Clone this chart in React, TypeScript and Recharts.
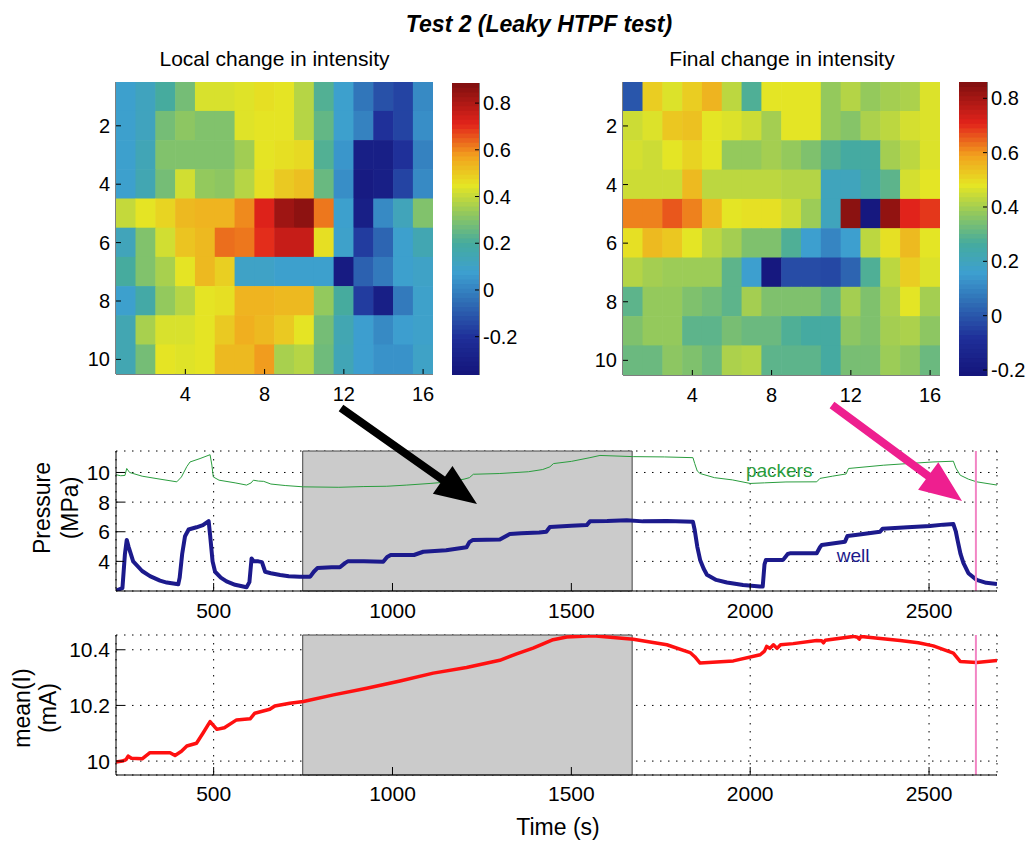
import React from 'react';
import {
  ScatterChart,
  Scatter,
  XAxis,
  YAxis,
  ReferenceArea,
  ReferenceLine,
  ReferenceDot,
  LineChart,
  Line,
  CartesianGrid,
} from 'recharts';

const FONT = '"Liberation Sans", Arial, Helvetica, sans-serif';

// ---- heatmaps (10 rows x 16 channels) ----
const LOCAL_CHANGE = [
  [0.08, 0.12, 0.2, 0.28, 0.43, 0.43, 0.44, 0.46, 0.45, 0.38, 0.22, 0.08, -0.03, -0.12, -0.15, 0.02],
  [0.08, 0.12, 0.28, 0.32, 0.3, 0.3, 0.44, 0.45, 0.45, 0.38, 0.25, 0.08, 0.0, -0.2, -0.15, 0.03],
  [0.08, 0.14, 0.3, 0.3, 0.3, 0.3, 0.35, 0.45, 0.46, 0.47, 0.22, 0.05, -0.3, -0.3, -0.2, 0.0],
  [0.08, 0.15, 0.28, 0.42, 0.33, 0.32, 0.38, 0.46, 0.5, 0.52, 0.26, 0.03, -0.32, -0.3, -0.15, 0.02],
  [0.4, 0.45, 0.48, 0.53, 0.54, 0.54, 0.6, 0.72, 0.83, 0.86, 0.62, 0.08, -0.3, 0.02, 0.13, 0.3],
  [0.13, 0.3, 0.42, 0.51, 0.53, 0.63, 0.62, 0.7, 0.76, 0.76, 0.46, 0.09, -0.17, -0.07, 0.08, 0.15],
  [0.2, 0.3, 0.36, 0.45, 0.53, 0.49, 0.1, 0.1, 0.08, 0.08, 0.08, -0.32, -0.08, -0.02, 0.08, 0.1],
  [0.08, 0.18, 0.33, 0.38, 0.45, 0.46, 0.54, 0.54, 0.53, 0.53, 0.33, 0.2, -0.17, -0.3, -0.02, 0.09],
  [0.15, 0.36, 0.43, 0.43, 0.45, 0.5, 0.55, 0.53, 0.5, 0.45, 0.28, 0.15, 0.07, 0.02, 0.07, 0.09],
  [0.15, 0.28, 0.45, 0.44, 0.45, 0.53, 0.53, 0.58, 0.36, 0.38, 0.27, 0.14, 0.07, 0.04, 0.04, 0.1],
];

const FINAL_CHANGE = [
  [0.0, 0.52, 0.47, 0.52, 0.56, 0.43, 0.28, 0.48, 0.48, 0.48, 0.38, 0.42, 0.38, 0.4, 0.41, 0.47],
  [0.45, 0.47, 0.53, 0.54, 0.48, 0.47, 0.45, 0.4, 0.48, 0.48, 0.38, 0.36, 0.41, 0.43, 0.46, 0.47],
  [0.46, 0.45, 0.48, 0.51, 0.48, 0.38, 0.38, 0.4, 0.38, 0.35, 0.29, 0.26, 0.26, 0.4, 0.43, 0.47],
  [0.45, 0.45, 0.45, 0.55, 0.43, 0.43, 0.43, 0.43, 0.42, 0.42, 0.2, 0.2, 0.25, 0.3, 0.46, 0.48],
  [0.62, 0.62, 0.66, 0.62, 0.55, 0.48, 0.49, 0.49, 0.45, 0.39, 0.2, 0.84, -0.2, 0.83, 0.71, 0.69],
  [0.49, 0.55, 0.53, 0.48, 0.43, 0.4, 0.35, 0.35, 0.28, 0.16, 0.1, 0.16, 0.43, 0.49, 0.55, 0.48],
  [0.42, 0.4, 0.39, 0.39, 0.39, 0.3, 0.16, -0.2, -0.02, -0.02, -0.03, 0.03, 0.28, 0.43, 0.52, 0.47],
  [0.3, 0.38, 0.38, 0.35, 0.33, 0.3, 0.4, 0.35, 0.35, 0.35, 0.31, 0.4, 0.35, 0.41, 0.48, 0.4],
  [0.35, 0.38, 0.38, 0.3, 0.3, 0.34, 0.32, 0.32, 0.28, 0.26, 0.26, 0.37, 0.35, 0.4, 0.41, 0.37],
  [0.32, 0.32, 0.37, 0.35, 0.32, 0.41, 0.42, 0.3, 0.3, 0.3, 0.26, 0.34, 0.34, 0.39, 0.37, 0.32],
];

const HEAT_X_TICKS = [4, 8, 12, 16];
const HEAT_Y_TICKS = [2, 4, 6, 8, 10];
const BAR_TICKS = [-0.2, 0, 0.2, 0.4, 0.6, 0.8];
const LOCAL_RANGE = [-0.364, 0.886];
const FINAL_RANGE = [-0.222, 0.86];

// ---- time series ----
const TIME_TICKS = [500, 1000, 1500, 2000, 2500];
const PRESSURE_TICKS = [4, 6, 8, 10];
const CURRENT_TICKS = [10, 10.2, 10.4];

const PACKERS_T = [227, 240, 252, 257, 265, 300, 350, 397, 410, 425, 434, 462, 490, 495, 499, 515, 560, 592, 605, 611, 625, 640, 660, 700, 751, 850, 920, 984, 1040, 1105, 1150, 1200, 1215, 1226, 1300, 1380, 1420, 1440, 1450, 1500, 1552, 1580, 1673, 1760, 1840, 1845, 1852, 1860, 1900, 1950, 2000, 2040, 2100, 2186, 2195, 2230, 2268, 2275, 2372, 2440, 2511, 2568, 2575, 2587, 2610, 2633, 2690];
const PACKERS_P = [9.85, 9.78, 9.8, 10.27, 10.0, 9.75, 9.55, 9.37, 9.7, 10.4, 10.71, 10.94, 11.2, 10.5, 9.7, 9.48, 9.3, 9.15, 9.3, 9.48, 9.42, 9.4, 9.22, 9.12, 9.03, 9.0, 9.05, 9.07, 9.15, 9.26, 9.35, 9.55, 9.65, 9.88, 9.93, 10.05, 10.2, 10.38, 10.6, 10.75, 11.0, 11.15, 11.07, 11.05, 11.0, 10.6, 10.1, 9.93, 9.65, 9.5, 9.26, 9.3, 9.36, 9.37, 9.6, 9.75, 9.9, 10.27, 10.49, 10.6, 10.71, 10.76, 10.3, 9.82, 9.55, 9.37, 9.15];

const WELL_T = [227, 245, 252, 257, 262, 275, 300, 322, 350, 369, 401, 405, 412, 420, 430, 452, 470, 486, 490, 497, 504, 520, 536, 560, 592, 600, 606, 612, 625, 635, 644, 660, 686, 710, 741, 770, 780, 790, 830, 853, 868, 875, 920, 974, 985, 995, 1060, 1086, 1150, 1207, 1215, 1225, 1300, 1328, 1360, 1410, 1430, 1440, 1500, 1543, 1552, 1600, 1655, 1700, 1767, 1840, 1845, 1852, 1860, 1870, 1879, 1905, 1935, 1980, 2027, 2035, 2040, 2044, 2092, 2105, 2111, 2186, 2195, 2200, 2265, 2272, 2300, 2363, 2370, 2440, 2503, 2540, 2568, 2575, 2580, 2588, 2596, 2610, 2633, 2660, 2690];
const WELL_P = [2.03, 2.2, 4.5, 5.45, 5.0, 4.0, 3.35, 3.0, 2.7, 2.57, 2.45, 2.9, 4.5, 5.7, 6.15, 6.3, 6.45, 6.72, 5.8, 4.0, 3.3, 2.9, 2.65, 2.42, 2.25, 2.6, 4.2, 4.0, 4.0, 3.95, 3.3, 3.2, 3.08, 3.0, 2.97, 2.97, 3.3, 3.55, 3.6, 3.6, 3.9, 4.0, 4.0, 3.98, 4.3, 4.43, 4.43, 4.65, 4.75, 4.95, 5.3, 5.45, 5.48, 5.85, 5.9, 5.95, 6.0, 6.32, 6.4, 6.45, 6.7, 6.72, 6.78, 6.7, 6.72, 6.67, 6.1, 5.0, 4.1, 3.5, 3.1, 2.75, 2.57, 2.4, 2.3, 2.3, 3.8, 4.1, 4.1, 4.5, 4.54, 4.55, 4.95, 5.1, 5.33, 5.72, 5.8, 6.0, 6.2, 6.3, 6.38, 6.48, 6.52, 6.0, 5.4, 4.5, 3.9, 3.2, 2.75, 2.55, 2.48];

const CURRENT_T = [227, 245, 255, 261, 270, 300, 322, 378, 392, 410, 425, 452, 470, 490, 509, 530, 564, 602, 615, 657, 671, 713, 751, 835, 928, 1021, 1114, 1207, 1300, 1347, 1393, 1449, 1487, 1561, 1673, 1767, 1832, 1845, 1860, 1953, 2028, 2040, 2046, 2055, 2065, 2075, 2085, 2120, 2186, 2200, 2205, 2210, 2289, 2300, 2305, 2310, 2330, 2419, 2470, 2512, 2568, 2587, 2633, 2690];
const CURRENT_I = [9.997, 10.0, 10.005, 10.018, 10.01, 10.008, 10.03, 10.03, 10.02, 10.035, 10.054, 10.064, 10.1, 10.142, 10.114, 10.12, 10.148, 10.152, 10.172, 10.186, 10.198, 10.208, 10.214, 10.238, 10.262, 10.288, 10.316, 10.336, 10.362, 10.385, 10.406, 10.436, 10.446, 10.45, 10.438, 10.418, 10.39, 10.375, 10.352, 10.36, 10.382, 10.395, 10.412, 10.405, 10.418, 10.405, 10.418, 10.422, 10.433, 10.432, 10.425, 10.434, 10.448, 10.445, 10.438, 10.448, 10.445, 10.433, 10.425, 10.414, 10.388, 10.358, 10.354, 10.361];

const TIME_DOMAIN = [227, 2690];
const SHADE = [749, 1670];
const MARKER_T = 2631;

const packersData = PACKERS_T.map((t, i) => ({ t, p: PACKERS_P[i] }));
const wellData = WELL_T.map((t, i) => ({ t, p: WELL_P[i] }));
const currentData = CURRENT_T.map((t, i) => ({ t, v: CURRENT_I[i] }));

// soft jet colormap
const STOPS: [number, string][] = [
  [0, '#14147a'],
  [0.13, '#1f2f99'],
  [0.25, '#2f6db5'],
  [0.35, '#3d9fd0'],
  [0.45, '#45ab9f'],
  [0.55, '#8fc760'],
  [0.65, '#e5e524'],
  [0.75, '#f2a21e'],
  [0.86, '#e2231b'],
  [1, '#7e0f0f'],
];
const rgb = (h: string) => [1, 3, 5].map((i) => parseInt(h.slice(i, i + 2), 16));
function cmap(t: number) {
  const u = Math.max(0, Math.min(1, t));
  let k = 0;
  while (k < STOPS.length - 2 && u > STOPS[k + 1][0]) k++;
  const [t0, c0] = STOPS[k];
  const [t1, c1] = STOPS[k + 1];
  const f = (u - t0) / (t1 - t0);
  const a = rgb(c0), b = rgb(c1);
  return `rgb(${a.map((v, i) => Math.round(v + (b[i] - v) * f)).join(',')})`;
}

const fmt = (v: number) => String(v);

// inward tick helpers
const leftTick = (len: number, size: number, gap: number) => (p: any) => (
  <g>
    <line x1={p.x} x2={p.x + len} y1={p.y} y2={p.y} stroke="#000" />
    <text x={p.x - gap} y={p.y} textAnchor="end" dominantBaseline="central" fontSize={size} fill="#000">
      {fmt(p.payload.value)}
    </text>
  </g>
);
const rightTick = (len: number, size: number, gap: number, label: boolean) => (p: any) => (
  <g>
    <line x1={p.x} x2={p.x - len} y1={p.y} y2={p.y} stroke="#000" />
    {label && (
      <text x={p.x + gap} y={p.y} textAnchor="start" dominantBaseline="central" fontSize={size} fill="#000">
        {fmt(p.payload.value)}
      </text>
    )}
  </g>
);
const bottomTick = (len: number, size: number, gap: number) => (p: any) => (
  <g>
    <line x1={p.x} x2={p.x} y1={p.y} y2={p.y - len} stroke="#000" />
    <text x={p.x} y={p.y + gap} textAnchor="middle" dominantBaseline="central" fontSize={size} fill="#000">
      {fmt(p.payload.value)}
    </text>
  </g>
);
const topTick = (len: number) => (p: any) => (
  <line x1={p.x} x2={p.x} y1={p.y} y2={p.y + len} stroke="#000" />
);
const plainLeftTick = (len: number) => (p: any) => (
  <line x1={p.x} x2={p.x + len} y1={p.y} y2={p.y} stroke="#000" />
);

const AXIS = { stroke: '#000' };

function Heatmap({ rows, range, left, top, w, h }: any) {
  const cells = rows.flatMap((r: number[], i: number) => r.map((v, j) => ({ x: j + 1, y: i + 1, v })));
  const cw = w / rows[0].length;
  const ch = h / rows.length;
  const [lo, hi] = range;
  const AW = 50, PAD = 10, XH = 40;
  const cell = (p: any) => (
    <rect
      x={p.cx - cw / 2 - 0.3}
      y={p.cy - ch / 2 - 0.3}
      width={cw + 0.6}
      height={ch + 0.6}
      fill={cmap((p.payload.v - lo) / (hi - lo))}
    />
  );
  return (
    <div style={{ position: 'absolute', left: left - AW, top: top - PAD }}>
      <ScatterChart width={w + AW + PAD} height={h + PAD + XH} margin={{ top: PAD, right: PAD, bottom: 0, left: 0 }}>
        <XAxis xAxisId="b" type="number" dataKey="x" domain={[0.5, 16.5]} ticks={HEAT_X_TICKS} interval={0}
          allowDataOverflow height={XH} tickSize={0} tickMargin={0} axisLine={AXIS} tick={bottomTick(5, 20, 20)} />
        <XAxis xAxisId="t" orientation="top" type="number" domain={[0.5, 16.5]} ticks={HEAT_X_TICKS} interval={0}
          allowDataOverflow height={0} tickSize={0} tickMargin={0} axisLine={AXIS} tick={topTick(5)} />
        <YAxis yAxisId="l" type="number" dataKey="y" domain={[0.5, 10.5]} reversed ticks={HEAT_Y_TICKS} interval={0}
          allowDataOverflow width={AW} tickSize={0} tickMargin={0} axisLine={AXIS} tick={leftTick(5, 20, 6)} />
        <YAxis yAxisId="r" orientation="right" type="number" domain={[0.5, 10.5]} reversed ticks={HEAT_Y_TICKS} interval={0}
          allowDataOverflow width={0} tickSize={0} tickMargin={0} axisLine={AXIS} tick={rightTick(5, 20, 4, false)} />
        <Scatter xAxisId="b" yAxisId="l" data={cells} shape={cell} isAnimationActive={false} />
      </ScatterChart>
    </div>
  );
}

function Colorbar({ range, left, top, w, h }: any) {
  const [lo, hi] = range;
  const N = 64;
  // one slab per colour of the 64-step colormap, placed by the chart's y scale
  const slabs = Array.from({ length: N }, (_, i) => ({ x: 0.5, y: lo + ((hi - lo) * (i + 0.5)) / N, c: cmap((i + 0.5) / N) }));
  const sh = h / N;
  const slab = (p: any) => (
    <rect x={p.cx - w / 2} y={p.cy - sh / 2 - 0.4} width={w} height={sh + 0.8} fill={p.payload.c} />
  );
  const RW = 50, PAD = 10;
  return (
    <div style={{ position: 'absolute', left: left - PAD, top: top - PAD }}>
      <ScatterChart width={w + PAD + RW} height={h + 2 * PAD} margin={{ top: PAD, right: 0, bottom: PAD, left: PAD }}>
        <XAxis xAxisId="b" type="number" dataKey="x" domain={[0, 1]} allowDataOverflow height={0} tick={false} tickLine={false} axisLine={AXIS} />
        <XAxis xAxisId="t" orientation="top" type="number" domain={[0, 1]} allowDataOverflow height={0} tick={false} tickLine={false} axisLine={AXIS} />
        <YAxis yAxisId="l" type="number" dataKey="y" domain={[lo, hi]} ticks={BAR_TICKS} interval={0} allowDataOverflow width={0}
          tickSize={0} tickMargin={0} axisLine={AXIS} tick={plainLeftTick(4)} />
        <YAxis yAxisId="r" orientation="right" type="number" domain={[lo, hi]} ticks={BAR_TICKS} interval={0} allowDataOverflow
          width={RW} tickSize={0} tickMargin={0} axisLine={AXIS} tick={rightTick(4, 20, 4, true)} />
        <Scatter xAxisId="b" yAxisId="l" data={slabs} shape={slab} isAnimationActive={false} />
        <Scatter xAxisId="t" yAxisId="r" data={[]} isAnimationActive={false} />
      </ScatterChart>
    </div>
  );
}

function arrow(x0: number, y0: number, x1: number, y1: number, sw: number, hl: number, hw: number) {
  const dx = x1 - x0, dy = y1 - y0;
  const L = Math.hypot(dx, dy);
  const ux = dx / L, uy = dy / L, px = -uy, py = ux;
  const bx = x1 - ux * hl, by = y1 - uy * hl;
  const pts = [
    [x0 + (px * sw) / 2, y0 + (py * sw) / 2],
    [bx + (px * sw) / 2, by + (py * sw) / 2],
    [bx + (px * hw) / 2, by + (py * hw) / 2],
    [x1, y1],
    [bx - (px * hw) / 2, by - (py * hw) / 2],
    [bx - (px * sw) / 2, by - (py * sw) / 2],
    [x0 - (px * sw) / 2, y0 - (py * sw) / 2],
  ];
  return pts.map((p) => p.join(',')).join(' ');
}

const GRID = { stroke: '#000', strokeDasharray: '1.5 6.5' };

export default function App() {
  return (
    <div style={{ position: 'absolute', left: 0, top: 0, width: 1029, height: 842, background: '#fff', fontFamily: FONT, overflow: 'hidden' }}>
      <Heatmap rows={LOCAL_CHANGE} range={LOCAL_RANGE} left={116} top={82} w={317} h={292} />
      <Colorbar range={LOCAL_RANGE} left={452} top={83} w={27} h={292} />
      <Heatmap rows={FINAL_CHANGE} range={FINAL_RANGE} left={623} top={82} w={317} h={293} />
      <Colorbar range={FINAL_RANGE} left={959} top={82} w={28} h={294} />

      <div style={{ position: 'absolute', left: 0, top: 440 }}>
        <LineChart width={1029} height={200} margin={{ top: 11, right: 32, left: 0, bottom: 0 }}>
          <CartesianGrid {...GRID} />
          <XAxis type="number" dataKey="t" domain={TIME_DOMAIN} ticks={TIME_TICKS} interval={0} allowDataOverflow
            height={49} tickSize={0} tickMargin={0} axisLine={AXIS} tick={bottomTick(8, 21, 19)} />
          <YAxis type="number" domain={[2, 11.45]} ticks={PRESSURE_TICKS} interval={0} allowDataOverflow
            width={116} tickSize={0} tickMargin={0} axisLine={AXIS} tick={leftTick(8, 21, 6)} />
          <ReferenceArea x1={SHADE[0]} x2={SHADE[1]} fill="#cbcbcb" fillOpacity={1} stroke="#444" strokeWidth={1} />
          <Line data={packersData} dataKey="p" type="linear" stroke="#2a9d3e" strokeWidth={1} dot={false} isAnimationActive={false} />
          <Line data={wellData} dataKey="p" type="linear" stroke="#1c1a8c" strokeWidth={4} dot={false}
            strokeLinejoin="round" isAnimationActive={false} />
          <ReferenceLine x={MARKER_T} stroke="#f285c4" strokeWidth={2} />
          <ReferenceDot x={2081} y={10.15} r={1} fillOpacity={0} strokeOpacity={0}
            label={{ value: 'packers', position: 'center', fill: '#2a9d3e', fontSize: 19 }} />
          <ReferenceDot x={2288} y={4.43} r={1} fillOpacity={0} strokeOpacity={0}
            label={{ value: 'well', position: 'center', fill: '#1c1a8c', fontSize: 19 }} />
        </LineChart>
      </div>

      <div style={{ position: 'absolute', left: 0, top: 620 }}>
        <LineChart width={1029} height={200} margin={{ top: 15, right: 32, left: 0, bottom: 0 }}>
          <CartesianGrid {...GRID} />
          <XAxis type="number" dataKey="t" domain={TIME_DOMAIN} ticks={TIME_TICKS} interval={0} allowDataOverflow
            height={45} tickSize={0} tickMargin={0} axisLine={AXIS} tick={bottomTick(8, 21, 18)} />
          <YAxis type="number" domain={[9.95, 10.453]} ticks={CURRENT_TICKS} interval={0} allowDataOverflow
            width={116} tickSize={0} tickMargin={0} axisLine={AXIS} tick={leftTick(8, 21, 6)} />
          <ReferenceArea x1={SHADE[0]} x2={SHADE[1]} fill="#cbcbcb" fillOpacity={1} stroke="#444" strokeWidth={1} />
          <Line data={currentData} dataKey="v" type="linear" stroke="#ff1010" strokeWidth={3.5} dot={false}
            strokeLinejoin="round" isAnimationActive={false} />
          <ReferenceLine x={MARKER_T} stroke="#f285c4" strokeWidth={2} />
        </LineChart>
      </div>

      <svg width={1029} height={842} style={{ position: 'absolute', left: 0, top: 0, pointerEvents: 'none' }}>
        <text x={539} y={32} textAnchor="middle" fontSize={23} fontWeight="bold" fontStyle="italic">
          Test 2 (Leaky HTPF test)
        </text>
        <text x={274.5} y={66} textAnchor="middle" fontSize={21}>Local change in intensity</text>
        <text x={782} y={66} textAnchor="middle" fontSize={21}>Final change in intensity</text>
        <g transform="translate(42,508) rotate(-90)">
          <text textAnchor="middle" dominantBaseline="central" fontSize={23}>Pressure</text>
        </g>
        <g transform="translate(70,508) rotate(-90)">
          <text textAnchor="middle" dominantBaseline="central" fontSize={23}>(MPa)</text>
        </g>
        <g transform="translate(22,708) rotate(-90)">
          <text textAnchor="middle" dominantBaseline="central" fontSize={23}>mean(I)</text>
        </g>
        <g transform="translate(48,708) rotate(-90)">
          <text textAnchor="middle" dominantBaseline="central" fontSize={23}>(mA)</text>
        </g>
        <text x={558} y={835} textAnchor="middle" fontSize={23}>Time (s)</text>
        <polygon points={arrow(341, 408, 477, 504, 8, 42, 34)} fill="#000" />
        <polygon points={arrow(832, 405, 962, 501, 8, 42, 34)} fill="#ee1f8f" />
      </svg>
    </div>
  );
}
